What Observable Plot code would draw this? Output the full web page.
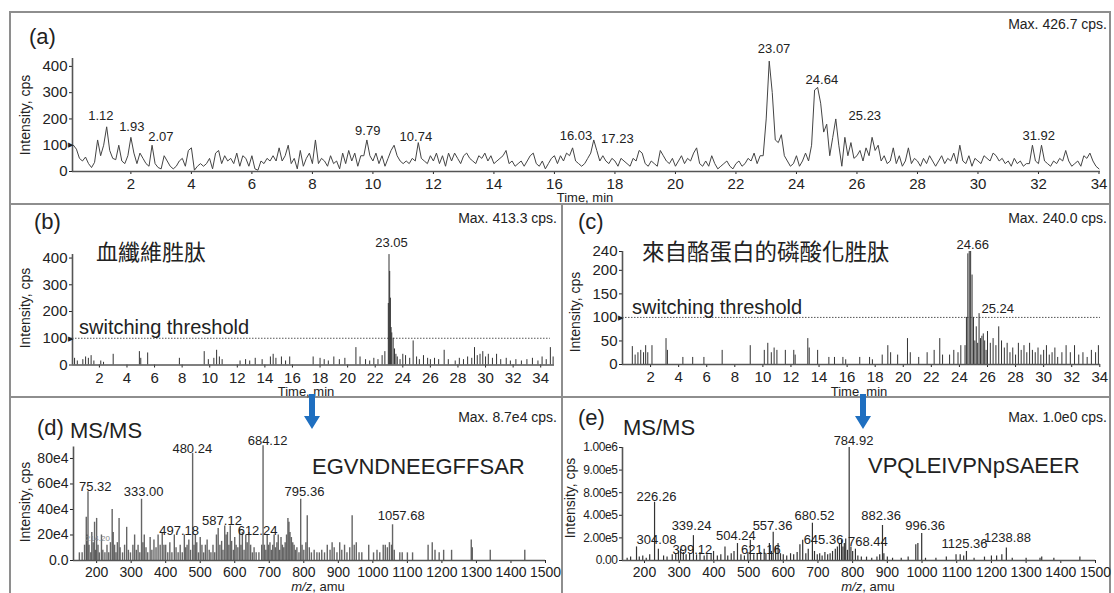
<!DOCTYPE html>
<html><head><meta charset="utf-8">
<script src="https://cdn.jsdelivr.net/npm/d3@7"></script>
<script src="https://cdn.jsdelivr.net/npm/@observablehq/plot@0.6"></script>
<style>
html,body{margin:0;padding:0;background:#fff;}
#root{position:relative;width:1114px;height:593px;overflow:hidden;font-family:"Liberation Sans",Arial,Helvetica,sans-serif;color:#222;background:#fff;}
.t{position:absolute;white-space:nowrap;line-height:1;}
.ln{position:absolute;background:#8e8e8e;}
</style></head><body><div id="root"></div>
<script>
// ---------------- DATA ----------------
// (a) total ion chromatogram, sampled every 0.1 min from 0.1 to 34.0
const aTimeStart = 0.1, aTimeStep = 0.1;
const aIntensity = [
 100,85,50,40,55,30,15,35,120,60,
 100,170,80,50,45,100,40,30,60,130,
 70,30,70,50,30,20,100,30,15,10,
 60,40,20,10,20,40,50,20,80,90,
 5,20,30,20,30,50,10,70,80,30,
 60,40,50,30,70,20,60,50,20,60,
 10,5,40,30,50,40,60,40,90,40,
 60,100,30,50,10,80,20,50,70,30,
 120,30,50,40,20,60,30,40,10,70,
 30,80,40,70,20,60,60,120,60,40,
 70,30,60,20,50,80,100,60,40,30,
 40,30,50,40,110,50,40,30,60,40,
 70,30,60,20,70,40,70,50,30,60,
 70,50,40,30,60,50,70,40,60,30,
 40,50,60,80,30,40,20,30,40,20,
 40,60,70,30,20,40,10,30,50,60,
 30,60,40,70,60,90,40,30,20,30,
 50,70,120,80,40,60,40,30,50,40,
 20,50,40,30,20,50,40,80,70,30,
 20,40,30,20,80,60,40,30,50,20,
 40,60,30,50,40,70,90,30,20,40,
 20,60,30,10,20,30,40,20,10,30,
 40,20,30,50,40,70,30,60,60,200,
 420,300,120,110,140,60,40,20,30,60,
 20,40,70,40,100,310,320,260,150,180,
 60,130,200,100,20,130,60,110,50,60,
 80,40,90,60,130,80,100,40,60,30,
 40,90,30,60,20,40,90,30,50,40,
 20,50,30,60,40,20,40,60,30,50,
 40,70,30,100,40,30,60,20,50,40,
 30,60,50,40,70,60,40,50,30,40,
 20,50,30,40,20,30,30,100,40,30,
 100,40,30,20,40,30,50,40,80,40,
 20,30,40,20,60,50,70,40,20,10
];
const aXTicks = [2,4,6,8,10,12,14,16,18,20,22,24,26,28,30,32,34];
const aYTicks = [0,100,200,300,400];
// peak labels: [text, time, intensity] of the label as placed in the figure
const aLabels = [["1.12",1.01,213],["1.93",2.03,171],["2.07",2.99,133],["9.79",9.83,156],["10.74",11.42,133],
  ["16.03",16.71,137],["17.23",18.08,126],["23.07",23.26,465],["24.64",24.84,347],["25.23",26.26,213],["31.92",32.01,137]];

// (b) extracted ion chromatogram, fibrinopeptide  [time, intensity]
const bSpikes = [[0.2,25],[0.4,15],[0.8,20],[1.0,30],[1.2,25],[1.4,35],[1.6,15],[2.1,15],[2.3,10],[3.0,40],
 [4.9,50],[5.0,25],[5.5,45],[7.8,25],[9.6,50],[9.9,20],[10.3,25],[10.5,55],[10.7,30],[10.9,20],[12.2,15],[12.6,20],
 [12.9,15],[13.3,25],[13.8,20],[14.4,30],[14.6,40],[14.8,25],[15.2,30],[15.5,15],[15.8,30],[17.5,30],[18.0,25],
 [18.3,20],[18.6,15],[19.0,30],[19.4,20],[19.8,25],[20.6,65],[20.9,30],[21.3,20],[21.6,15],[21.9,25],[22.2,20],
 [22.5,35],[22.7,50],[22.95,230],[23.0,413],[23.05,350],[23.1,250],[23.15,140],[23.2,120],[23.3,100],[23.4,60],
 [23.5,40],[23.6,30],[23.8,20],[24.0,40],[24.2,35],[24.5,25],[24.75,90],[25.0,30],[25.2,20],[25.5,35],[25.8,25],
 [26.0,20],[26.3,25],[26.6,20],[27.0,55],[27.3,20],[27.8,15],[28.1,25],[28.4,20],[28.7,30],[29.0,25],[29.2,65],
 [29.4,35],[29.6,40],[29.8,50],[30.0,30],[30.2,40],[30.5,25],[30.8,40],[31.1,20],[31.5,25],[31.8,15],[32.2,20],
 [32.6,15],[33.0,20],[33.4,25],[33.8,15],[34.1,30],[34.4,20],[34.7,65],[34.9,30]];
const bXTicks = aXTicks;
const bYTicks = [0,100,200,300,400];
const bLabels = [["23.05",23.18,458]];

// (c) extracted ion chromatogram, casein phosphopeptide  [time, intensity]
const cSpikes = [[0.7,38],[0.9,20],[1.1,25],[1.3,30],[1.5,25],[1.65,40],[1.8,25],[2.1,40],[3.1,55],[3.2,30],
 [4.3,15],[5.0,15],[5.8,15],[7.1,30],[9.1,40],[10.1,30],[10.35,45],[10.6,25],[10.8,35],[11.0,30],[11.6,30],
 [12.2,30],[12.3,20],[13.2,55],[13.3,35],[13.9,30],[14.7,15],[15.1,15],[15.7,15],[15.9,10],[16.9,15],[17.6,15],
 [17.8,10],[18.5,20],[18.9,40],[19.1,25],[19.6,20],[20.3,55],[20.5,25],[21.1,15],[21.7,25],[22.2,30],[22.6,55],
 [22.8,20],[23.3,20],[23.6,30],[23.9,25],[24.1,40],[24.4,40],[24.5,100],[24.6,235],[24.7,240],[24.8,240],[24.9,190],
 [25.0,100],[25.1,50],[25.2,80],[25.3,45],[25.4,108],[25.5,55],[25.6,60],[25.7,65],[25.8,50],[25.9,30],[26.0,70],
 [26.2,45],[26.4,55],[26.6,40],[26.8,80],[27.0,50],[27.2,35],[27.4,45],[27.6,25],[27.8,35],[28.0,20],[28.2,45],
 [28.4,30],[28.6,40],[28.8,25],[29.0,45],[29.2,30],[29.4,25],[29.6,35],[29.8,20],[30.0,30],[30.2,40],[30.4,20],
 [30.6,25],[30.8,35],[31.0,15],[31.3,25],[31.6,40],[31.9,25],[32.2,40],[32.5,20],[32.8,25],[33.1,15],[33.4,30],
 [33.7,25],[33.9,40]];
const cXTicks = aXTicks;
const cYTicks = [0,50,100,150,200,240];
const cLabels = [["24.66",24.95,255],["25.24",26.73,119]];
const threshold = 100;

// (d) MS/MS spectrum of EGVNDNEEGFFSAR  [m/z, intensity (e4)]
const dPeaks = [[150,6],[158,6],[165,12],[170,34],[172,20],[175,54],[178,12],[183,6],[186,22],[190,14],[194,30],
 [197,8],[200,33],[204,12],[208,6],[214,20],[218,8],[224,6],[230,12],[235,6],[240,14],[245,40],[248,22],[252,12],
 [256,6],[260,14],[265,33],[268,10],[275,6],[281,12],[287,26],[292,8],[298,6],[305,12],[310,20],[315,8],[320,12],
 [325,6],[330,48],[334,14],[338,20],[343,10],[348,6],[355,18],[360,8],[366,16],[372,10],[378,20],[384,12],[390,22],
 [395,12],[400,12],[406,6],[412,14],[418,6],[425,20],[430,10],[436,6],[442,12],[448,6],[454,20],[458,10],[462,12],
 [467,16],[472,8],[478,84],[482,12],[486,20],[490,14],[495,6],[500,18],[505,12],[510,6],[515,12],[520,16],[526,8],
 [531,6],[537,12],[542,6],[547,20],[552,25],[557,12],[562,15],[566,8],[571,27],[575,20],[579,22],[583,12],[587,27],
 [591,15],[596,8],[600,18],[604,12],[609,10],[614,25],[618,12],[622,22],[627,8],[632,20],[636,14],[641,22],[646,12],
 [651,6],[656,10],[662,6],[670,6],[678,12],[682,90],[686,12],[690,8],[694,20],[698,12],[702,14],[706,8],[710,12],
 [714,20],[718,10],[722,14],[726,20],[730,8],[734,18],[738,12],[742,10],[746,14],[750,20],[754,33],[757,30],[760,22],
 [764,18],[768,14],[772,12],[776,8],[780,10],[786,6],[791,48],[795,12],[800,8],[806,14],[810,35],[816,10],[822,6],
 [830,8],[838,6],[845,6],[852,8],[860,6],[868,12],[876,8],[882,14],[888,10],[896,6],[904,14],[910,8],[918,12],
 [925,6],[933,10],[940,35],[946,12],[952,14],[960,6],[968,6],[988,12],[1002,6],[1012,8],[1020,6],[1030,12],[1036,12],
 [1042,10],[1048,14],[1054,12],[1057,28],[1062,8],[1078,6],[1085,6],[1100,6],[1115,6],[1160,12],[1172,14],[1180,8],
 [1192,6],[1205,8],[1228,8],[1285,16],[1288,10],[1340,8],[1440,8]];
const dXTicks = [200,300,400,500,600,700,800,900,1000,1100,1200,1300,1400,1500];
const dYTicks = [0,20,40,60,80];
const dLabels = [["75.32",196,58],["333.00",336,53.6],["480.24",477,87.6],["684.12",695,94],["795.36",802,53.6],
 ["1057.68",1082,34.8],["497.18",439,23.5],["587.12",563,31.4],["612.24",666,23.5]];
const dMinorLabels = [["214.20",203,17.5]];

// (e) MS/MS spectrum of VPQLEIVPNpSAEER  [m/z, intensity]
const ePeaks = [[150,2e4],[160,3e4],[177,1.2e5],[185,3e4],[195,4e4],[205,2e4],[215,5e4],[229,6.3e5],[240,1.0e5],
 [255,4e4],[265,3e4],[280,5e4],[290,6e4],[298,8e4],[304,1.0e5],[312,7e4],[320,5e4],[330,6e4],[341,2.2e5],[350,5e4],
 [360,7e4],[372,4e4],[380,5e4],[392,6e4],[399,8e4],[410,4e4],[420,5e4],[432,1.2e5],[440,4e4],[450,6e4],[458,8e4],
 [468,1.5e5],[478,5e4],[488,4e4],[498,7e4],[505,1.8e5],[515,5e4],[525,6e4],[535,7e4],[545,1.0e5],[550,6e4],
 [560,1.5e5],[566,8e4],[571,2.5e5],[578,1.2e5],[585,1.5e5],[592,6e4],[600,5e4],[610,4e4],[621,6e4],[630,5e4],
 [640,7e4],[648,1.4e5],[656,1.8e5],[665,6e4],[672,1.0e5],[684,3.3e5],[690,8e4],[698,5e4],[705,6e4],[712,4e4],
 [720,7e4],[728,5e4],[735,6e4],[742,8e4],[750,1.0e5],[756,1.2e5],[762,1.5e5],[768,1.8e5],[772,1.2e5],[776,1.5e5],
 [780,1.9e5],[785,9e4],[790,1.0e6],[795,1.2e5],[800,8e4],[808,1.0e5],[815,4e4],[825,3e4],[840,3e4],[855,2e4],
 [870,3e4],[878,5e4],[886,3.1e5],[890,6e4],[900,3e4],[915,2e4],[940,2e4],[960,3e4],[982,1.4e5],[988,1.5e5],
 [999,2.4e5],[1010,2e4],[1040,2e4],[1070,3e4],[1098,5e4],[1110,5e4],[1120,4e4],[1128,8e4],[1150,2e4],[1180,3e4],
 [1200,4e4],[1215,4e4],[1230,5e4],[1243,1.1e5],[1260,2e4],[1300,2e4],[1340,2e4],[1345,3e4],[1380,2e4],[1455,3e4]];
const eXTicks = dXTicks;
const eYTicks = [0,2e5,4e5,8e5,9e5,1e6];
const eYTickLabels = ["0.00","2.00e5","4.00e5","8.00e5","9.00e5","1.00e6"];
const eLabels = [["784.92",802.5,1.031e6],["226.26",234.6,7.2e5],["339.24",335.5,3.04e5],["304.08",234.6,1.86e5],
 ["399.12",338,0.97e5],["504.24",463.5,2.21e5],["557.36",569,3.04e5],["621.16",535.6,0.97e5],["680.52",690,3.98e5],
 ["645.36",716,1.86e5],["768.44",844,1.62e5],["882.36",882,3.98e5],["996.36",1009,3.04e5],["1125.36",1122.5,1.48e5],
 ["1238.88",1246,1.97e5]];

// ---------------- DRAWING ----------------
const root = document.getElementById("root");
const FONT = '"Liberation Sans", Arial, Helvetica, sans-serif';
const AX = "#555";
function place(svg, x, y) {
  svg.style.position = "absolute"; svg.style.left = x + "px"; svg.style.top = y + "px";
  root.appendChild(svg);
  return svg;
}
function txt(s, x, y, o = {}) {
  const d = document.createElement("div");
  d.className = "t";
  if (o.html) d.innerHTML = s; else d.textContent = s;
  d.style.left = x + "px"; d.style.top = y + "px";
  d.style.fontSize = (o.size || 14) + "px";
  const ax = o.anchor === "end" ? "-100%" : o.anchor === "middle" ? "-50%" : "0";
  d.style.transform = `translate(${ax},-50%)` + (o.rotate ? ` rotate(${o.rotate}deg)` : "");
  if (o.font) d.style.fontFamily = o.font;
  if (o.color) d.style.color = o.color;
  root.appendChild(d);
  return d;
}
const style15 = {fontSize: "15px", fontFamily: FONT, color: "#222", background: "none", overflow: "visible"};
const style14 = {...style15, fontSize: "14px"};
const toObj = (arr) => arr.map(([a, b]) => ({x: a, y: b}));
const toLab = (arr) => arr.map(([s, a, b]) => ({s, x: a, y: b}));
const marker = (x0) => Plot.text([threshold], {x: () => x0, y: d => d, text: () => "\u25B6", fontSize: 7, dx: 1, textAnchor: "end", fill: "#222", fontFamily: "DejaVu Sans"});
const plain = d => String(d);

// frame
const lines = [
  [9, 11, 1102, 2], [9, 11, 2, 590], [1109, 11, 2, 590],
  [9, 203, 1102, 2], [9, 396, 1102, 2], [561, 203, 2, 400]
];
for (const [x, y, w, h] of lines) {
  const d = document.createElement("div"); d.className = "ln";
  Object.assign(d.style, {left: x + "px", top: y + "px", width: w + "px", height: h + "px"});
  root.appendChild(d);
}

// (a)
const aSeries = aIntensity.map((v, i) => ({x: +(aTimeStart + i * aTimeStep).toFixed(2), y: v}));
const aX = [0.07, 34.05], aY = [0, 430];
place(Plot.plot({
  width: 1098, height: 190, marginLeft: 61, marginRight: 9, marginTop: 45, marginBottom: 32,
  style: style15,
  x: {domain: aX, ticks: aXTicks, tickSize: 3, tickPadding: 4, label: null},
  y: {domain: aY, ticks: aYTicks, tickSize: 3, tickPadding: 2, label: null},
  marks: [
    Plot.ruleY([0], {x1: aX[0], x2: aX[1], stroke: AX, strokeWidth: 1.6}),
    Plot.ruleX([aX[0]], {y1: 0, y2: aY[1], stroke: AX, strokeWidth: 1.6}),
    Plot.line(aSeries, {x: "x", y: "y", stroke: "#444", strokeWidth: 1}),
    Plot.text(toLab(aLabels), {x: "x", y: "y", text: "s", fontSize: 13, fill: "#222"}),
    marker(aX[0])
  ]
}), 11, 13);
txt("(a)", 29, 37, {size: 22});
txt("Max. 426.7 cps.", 1107, 24, {anchor: "end", size: 14});
txt("Intensity, cps", 25, 115, {anchor: "middle", rotate: -90, size: 14});
txt("Time, min", 585, 197, {anchor: "middle", size: 13});

// (b)
const bX = [0.05, 35.0], bY = [0, 413.3];
place(Plot.plot({
  width: 550, height: 190, marginLeft: 61, marginRight: 7, marginTop: 47, marginBottom: 32.5,
  style: style15,
  x: {domain: bX, ticks: bXTicks, tickSize: 3, tickPadding: 4, label: null},
  y: {domain: bY, ticks: bYTicks, tickSize: 3, tickPadding: 2, label: null},
  marks: [
    Plot.ruleY([threshold], {x1: bX[0], x2: 34.7, stroke: "#555", strokeWidth: 1, strokeDasharray: "1.5,1.5"}),
    Plot.ruleX(toObj(bSpikes), {x: "x", y1: 0, y2: "y", stroke: "#333", strokeWidth: 1}),
    Plot.ruleY([0], {x1: bX[0], x2: bX[1], stroke: AX, strokeWidth: 1.6}),
    Plot.ruleX([bX[0]], {y1: 0, y2: bY[1], stroke: AX, strokeWidth: 1.6}),
    Plot.text(toLab(bLabels), {x: "x", y: "y", text: "s", fontSize: 13, fill: "#222"}),
    marker(bX[0])
  ]
}), 11, 207);
txt("(b)", 34, 222, {size: 22});
txt("Max. 413.3 cps.", 557, 218, {anchor: "end", size: 14});
txt("Intensity, cps", 25, 308, {anchor: "middle", rotate: -90, size: 14});
txt("血纖維胜肽", 96, 250, {size: 22, font: '"Noto Sans CJK TC", sans-serif'});
txt("switching threshold", 79, 327, {size: 20});
txt("Time, min", 306, 391, {anchor: "middle", size: 13});

// (c)
const cX = [0, 34.05], cY = [0, 240];
place(Plot.plot({
  width: 547, height: 190, marginLeft: 59, marginRight: 10, marginTop: 44, marginBottom: 33,
  style: style15,
  x: {domain: cX, ticks: cXTicks, tickSize: 3, tickPadding: 4, label: null},
  y: {domain: cY, ticks: cYTicks, tickSize: 3, tickPadding: 2, label: null},
  marks: [
    Plot.ruleY([threshold], {x1: cX[0], x2: cX[1], stroke: "#555", strokeWidth: 1, strokeDasharray: "1.5,1.5"}),
    Plot.ruleX(toObj(cSpikes), {x: "x", y1: 0, y2: "y", stroke: "#333", strokeWidth: 1}),
    Plot.ruleY([0], {x1: cX[0], x2: cX[1], stroke: AX, strokeWidth: 1.6}),
    Plot.ruleX([cX[0]], {y1: 0, y2: cY[1], stroke: AX, strokeWidth: 1.6}),
    Plot.text(toLab(cLabels), {x: "x", y: "y", text: "s", fontSize: 13, fill: "#222"}),
    marker(cX[0])
  ]
}), 563, 207);
txt("(c)", 578, 222, {size: 22});
txt("Max. 240.0 cps.", 1107, 218, {anchor: "end", size: 14});
txt("Intensity, cps", 575, 312, {anchor: "middle", rotate: -90, size: 14});
txt("來自酪蛋白的磷酸化胜肽", 642, 250, {size: 22.5, font: '"Noto Sans CJK TC", sans-serif'});
txt("switching threshold", 632, 307, {size: 20});
txt("Time, min", 859, 391, {anchor: "middle", size: 13});

// (d)
const dX = [133, 1500], dY = [0, 89];
place(Plot.plot({
  width: 550, height: 193, marginLeft: 62, marginRight: 16, marginTop: 46.5, marginBottom: 33,
  style: style14,
  x: {domain: dX, ticks: dXTicks, tickSize: 3, tickPadding: 4, label: null, tickFormat: plain},
  y: {domain: dY, ticks: dYTicks, tickSize: 3, tickPadding: 2, label: null, tickFormat: d => d === 0 ? "0.0" : d + "e4"},
  marks: [
    Plot.ruleX(toObj(dPeaks), {x: "x", y1: 0, y2: "y", stroke: "#4a4a4a", strokeWidth: 1.4, strokeOpacity: 0.85}),
    Plot.ruleY([0], {x1: dX[0], x2: dX[1], stroke: AX, strokeWidth: 1.6}),
    Plot.ruleX([dX[0]], {y1: 0, y2: dY[1], stroke: AX, strokeWidth: 1.6}),
    Plot.text(toLab(dLabels), {x: "x", y: "y", text: "s", fontSize: 13, fill: "#222"}),
    Plot.text(toLab(dMinorLabels), {x: "x", y: "y", text: "s", fontSize: 8, fill: "#888"})
  ]
}), 11, 400);
txt("(d)", 37, 428, {size: 22});
txt("MS/MS", 70, 431, {size: 22});
txt("Max. 8.7e4 cps.", 557, 417, {anchor: "end", size: 14});
txt("Intensity, cps", 25, 502, {anchor: "middle", rotate: -90, size: 14});
txt("EGVNDNEEGFFSAR", 312, 467, {size: 22});
txt("<i>m/z</i>, amu", 318, 586, {anchor: "middle", size: 13, html: true});

// (e) - the intensity axis is broken: its ticks are evenly spaced but not evenly valued
const eAxis = d3.scaleLinear().domain(eYTicks).range(eYTicks.map((_, i) => i));
const eX = [136.6, 1500];
const eSvg = place(Plot.plot({
  width: 547, height: 193, marginLeft: 59, marginRight: 15, marginTop: 47, marginBottom: 33,
  style: style14,
  x: {domain: eX, ticks: eXTicks, tickSize: 3, tickPadding: 4, label: null, tickFormat: plain},
  y: {domain: [0, eYTicks.length - 1], ticks: eYTicks.map((_, i) => i), tickSize: 3, tickPadding: 2, label: null,
      tickFormat: i => eYTickLabels[i]},
  marks: [
    Plot.ruleX(toObj(ePeaks), {x: "x", y1: 0, y2: d => eAxis(d.y), stroke: "#333", strokeWidth: 1.2}),
    Plot.ruleY([0], {x1: eX[0], x2: eX[1], stroke: AX, strokeWidth: 1.6}),
    Plot.ruleX([eX[0]], {y1: 0, y2: eYTicks.length - 1, stroke: AX, strokeWidth: 1.6}),
    Plot.text(toLab(eLabels), {x: "x", y: d => eAxis(d.y), text: "s", fontSize: 13, fill: "#222"})
  ]
}), 563, 400);
// the tick labels of this broken axis are set in a narrower, smaller face in the original
eSvg.querySelectorAll('[aria-label^="y-axis"] text').forEach(t => { t.style.fontSize = "12px"; t.style.letterSpacing = "-0.4px"; });
txt("(e)", 578, 418, {size: 22});
txt("MS/MS", 623, 428, {size: 22});
txt("Max. 1.0e0 cps.", 1107, 417, {anchor: "end", size: 14});
txt("Intensity, cps", 570, 498, {anchor: "middle", rotate: -90, size: 14});
txt("VPQLEIVPNpSAEER", 868, 466, {size: 22});
txt("<i>m/z</i>, amu", 868, 586, {anchor: "middle", size: 13, html: true});

// blue arrows linking the XIC peaks to their MS/MS spectra
const ns = "http://www.w3.org/2000/svg";
const ov = document.createElementNS(ns, "svg");
ov.setAttribute("width", 1114); ov.setAttribute("height", 593);
Object.assign(ov.style, {position: "absolute", left: "0px", top: "0px", overflow: "visible"});
for (const [cx, top, tip] of [[312, 394, 429], [863, 394, 429]]) {
  const p = document.createElementNS(ns, "path");
  const hs = tip - 13;
  p.setAttribute("d", `M${cx - 3},${top} L${cx + 3},${top} L${cx + 3},${hs} L${cx + 8},${hs} L${cx},${tip} L${cx - 8},${hs} L${cx - 3},${hs} Z`);
  p.setAttribute("fill", "#1f6fc0");
  ov.appendChild(p);
}
root.appendChild(ov);
</script></body></html>
